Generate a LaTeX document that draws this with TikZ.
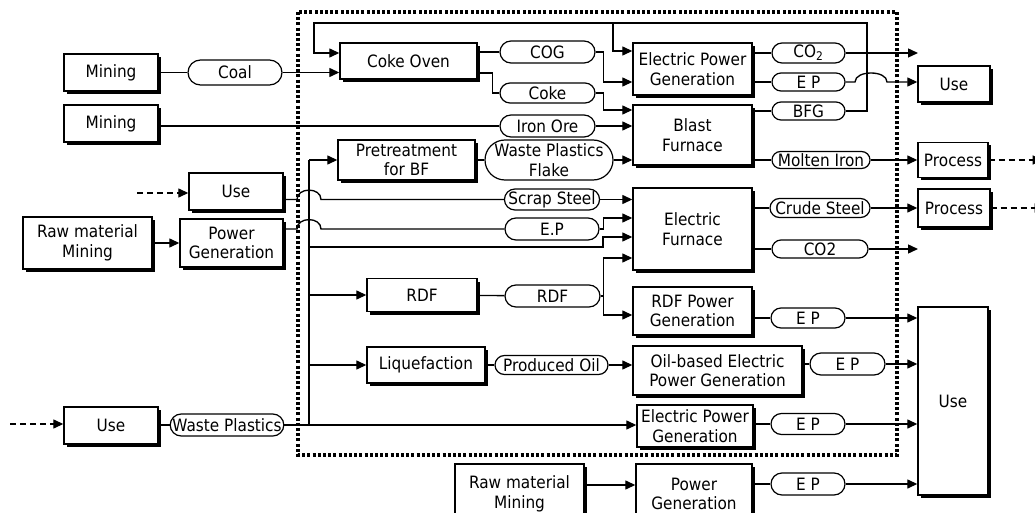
\documentclass[tikz,border=0pt]{standalone}
\usepackage{fontspec}
\setmainfont{DejaVu Sans}[FakeStretch=0.9]
\usetikzlibrary{arrows.meta,shapes.misc,shadows}
\tikzset{
  box/.style={draw, line width=1.4pt, fill=white, align=center, inner sep=0pt,
    drop shadow={shadow xshift=3pt, shadow yshift=-3pt, fill=black, opacity=1}},
  pill/.style={draw, rounded rectangle, line width=1.2pt, fill=white, inner sep=0pt, align=center},
  conn/.style={line width=1.35pt},
  arr/.style={conn, -{Triangle[length=10pt,width=9pt]}},
  dashedarr/.style={arr, dash pattern=on 6pt off 4pt},
  dotbox/.style={line width=3.2pt, dash pattern=on 3pt off 2.2pt},
}
\begin{document}
\begin{tikzpicture}[x=1pt,y=-1pt,font=\fontsize{17}{19.5}\selectfont]
\useasboundingbox[fill=white] (0,0) rectangle (1035,513);
\draw[dotbox] (298,12) rectangle (897,455);

% boxes
\node[box, minimum width=94pt, minimum height=37pt] (mining1) at (111,72.5) {Mining};
\node[box, minimum width=94pt, minimum height=37pt] (mining2) at (111,123.5) {Mining};
\node[box, minimum width=137pt, minimum height=36pt] (cokeoven) at (408.5,61) {Coke Oven};
\node[box, minimum width=119pt, minimum height=52pt] (epg1) at (692.5,69) {Electric Power\\Generation};
\node[box, minimum width=119pt, minimum height=60pt] (bf) at (692.5,135) {Blast\\Furnace};
\node[box, minimum width=137pt, minimum height=40pt] (pretreat) at (406.5,160) {Pretreatment\\for BF};
\node[box, minimum width=72pt, minimum height=36pt] (use1) at (954,84) {Use};
\node[box, minimum width=70pt, minimum height=35pt] (process1) at (953,160) {Process};
\node[box, minimum width=72pt, minimum height=38pt] (process2) at (954,208) {Process};
\node[box, minimum width=119pt, minimum height=82pt] (ef) at (692.5,229) {Electric\\Furnace};
\node[box, minimum width=94pt, minimum height=37pt] (usel) at (236,191.5) {Use};
\node[box, minimum width=103pt, minimum height=48pt] (powl) at (231.5,243) {Power\\Generation};
\node[box, minimum width=129pt, minimum height=52pt] (rawl) at (87.5,243) {Raw material\\Mining};
\node[box, minimum width=110pt, minimum height=33pt] (rdf) at (422,295) {RDF};
\node[box, minimum width=119pt, minimum height=48pt] (rdfpg) at (692.5,311) {RDF Power\\Generation};
\node[box, minimum width=118pt, minimum height=36pt] (liq) at (426,365) {Liquefaction};
\node[box, minimum width=169pt, minimum height=49pt] (oilpg) at (717.5,370.5) {Oil-based Electric\\Power Generation};
\node[box, minimum width=116pt, minimum height=42pt] (epg2) at (695,426) {Electric Power\\Generation};
\node[box, minimum width=94pt, minimum height=37pt] (useb) at (111,425.5) {Use};
\node[box, minimum width=70pt, minimum height=188pt] (bigUse) at (953,401) {Use};
\node[box, minimum width=129pt, minimum height=60pt] (rawb) at (519.5,494) {Raw material\\Mining};
\node[box, minimum width=116pt, minimum height=60pt] (powb) at (694,494) {Power\\Generation};

% pills
\node[pill, minimum width=94pt, minimum height=25pt] (coal) at (235,72.5) {Coal};
\node[pill, minimum width=95pt, minimum height=22pt] (cog) at (547.5,52) {COG};
\node[pill, minimum width=95pt, minimum height=20pt] (coke) at (547.5,93) {Coke};
\node[pill, minimum width=95pt, minimum height=22pt] (ironore) at (547.5,126) {Iron Ore};
\node[pill, minimum width=128pt, minimum height=40pt] (wpf) at (549,160) {Waste Plastics\\Flake};
\node[pill, minimum width=73pt, minimum height=20pt] (co2a) at (808.5,53) {CO\textsubscript{2}};
\node[pill, minimum width=73pt, minimum height=18pt] (ep1) at (808.5,82) {E P};
\node[pill, minimum width=73pt, minimum height=18pt] (bfg) at (808.5,111) {BFG};
\node[pill, minimum width=98pt, minimum height=17pt] (molten) at (821,160) {Molten Iron};
\node[pill, minimum width=94pt, minimum height=21pt] (scrap) at (552,199.5) {Scrap Steel};
\node[pill, minimum width=94pt, minimum height=22pt] (ep2) at (552,229) {E.P};
\node[pill, minimum width=100pt, minimum height=19pt] (crude) at (820,208) {Crude Steel};
\node[pill, minimum width=96pt, minimum height=18pt] (co2b) at (820,249) {CO2};
\node[pill, minimum width=95pt, minimum height=22pt] (rdfp) at (552.5,296) {RDF};
\node[pill, minimum width=74pt, minimum height=20pt] (ep3) at (808,318) {E P};
\node[pill, minimum width=113pt, minimum height=19pt] (prodoil) at (551.5,365) {Produced Oil};
\node[pill, minimum width=75pt, minimum height=22pt] (ep4) at (847.5,364) {E P};
\node[pill, minimum width=112pt, minimum height=22pt] (wp) at (227,425) {Waste Plastics};
\node[pill, minimum width=74pt, minimum height=21pt] (ep5) at (808,424) {E P};
\node[pill, minimum width=74pt, minimum height=22pt] (ep6) at (808,484) {E P};

% free ends and junctions
\coordinate (lpR) at (867,23);
\coordinate (lpL) at (314,23);
\coordinate (lpB) at (613,23);
\coordinate (co2aEnd) at (918,53);
\coordinate (co2bEnd) at (918,249);
\coordinate (uselIn) at (137,193);
\coordinate (usebIn) at (10,424);
\coordinate (busTop) at (309,160);
\coordinate (busBot) at (309,425);

% top chain
\draw[conn] (mining1) -- (coal);
\draw[arr] (coal.east) -- (coal.east -| cokeoven.west);
\draw[arr] (bfg.east) -| (lpR) -- (lpL) |- (cokeoven.west |- 0,53);
\draw[arr] (lpB) |- (epg1.west |- 0,51);
\draw[conn] (cokeoven.east |- cog) -- (cog.west);
\draw[arr] (cog.east) -- ++(8,0) |- (epg1.west |- 0,82);
\draw[conn] (cokeoven.east |- 0,73) -- ++(15,0) |- (coke.west);
\draw[arr] (coke.east) -- ++(8,0) |- (bf.west |- 0,110);
\draw[conn] (mining2.east |- ironore) -- (ironore.west);
\draw[arr] (ironore.east) -- (ironore.east -| bf.west);
\draw[conn] (pretreat) -- (wpf);
\draw[arr] (wpf.east) -- (wpf.east -| bf.west);
\draw[conn] (bf.east |- bfg) -- (bfg.west);
\draw[conn] (epg1.east |- co2a) -- (co2a.west);
\draw[arr] (co2a.east) -- (co2aEnd);
\draw[conn] (epg1.east |- ep1) -- (ep1.west);
\draw[arr] (ep1.east) -- (855,82) .. controls (855,70) and (887,70) .. (887,82) -- (use1.west |- ep1);
\draw[conn] (bf.east |- molten) -- (molten.west);
\draw[arr] (molten.east) -- (molten.east -| process1.west);
\draw[dashedarr] (process1.east) -- ++(54,0);

% left inputs
\draw[dashedarr] (uselIn) -- (usel.west |- uselIn);
\draw[conn] (usel.east |- scrap) -- (297,199.5) .. controls (297,187) and (321,187) .. (321,199.5) -- (scrap.west);
\draw[arr] (scrap.east) -- (scrap.east -| ef.west);
\draw[arr] (rawl) -- (powl);
\draw[conn] (powl.east |- ep2) -- (297,229) .. controls (297,216.5) and (321,216.5) .. (321,229) -- (ep2.west);
\draw[arr] (ep2.east) -- ++(4,0) |- (ef.west |- 0,218);

% bus
\draw[conn] (busTop) -- (busBot);
\draw[arr] (busTop) -- (pretreat.west);
\draw[arr] (309,247) -- (603,247) |- (ef.west |- 0,237);
\draw[arr] (busTop |- rdf) -- (rdf.west);
\draw[conn] (rdf) -- (rdfp);
\draw[conn] (rdfp.east) -- ++(3,0) coordinate (rj);
\draw[arr] (rj) |- (ef.west |- 0,258);
\draw[arr] (rj) |- (rdfpg.west |- 0,315);
\draw[arr] (busTop |- liq) -- (liq.west);
\draw[conn] (liq) -- (prodoil);
\draw[arr] (prodoil.east) -- (prodoil.east -| oilpg.west);

% bottom left
\draw[dashedarr] (usebIn) -- (useb.west |- usebIn);
\draw[conn] (useb.east |- wp) -- (wp.west);
\draw[arr] (wp.east) -- (wp.east -| epg2.west);

% right outputs
\draw[conn] (ef.east |- crude) -- (crude.west);
\draw[arr] (crude.east) -- (crude.east -| process2.west);
\draw[dashedarr] (process2.east) -- ++(54,0);
\draw[conn] (ef.east |- co2b) -- (co2b.west);
\draw[arr] (co2b.east) -- (co2bEnd);
\draw[conn] (rdfpg.east |- ep3) -- (ep3.west);
\draw[arr] (ep3.east) -- (ep3.east -| bigUse.west);
\draw[conn] (oilpg.east |- ep4) -- (ep4.west);
\draw[arr] (ep4.east) -- (ep4.east -| bigUse.west);
\draw[conn] (epg2.east |- ep5) -- (ep5.west);
\draw[arr] (ep5.east) -- (ep5.east -| bigUse.west);
\draw[arr] (rawb.east |- 0,485) -- (powb.west |- 0,485);
\draw[conn] (powb.east |- ep6) -- (ep6.west);
\draw[arr] (ep6.east) -- (ep6.east -| bigUse.west);
\end{tikzpicture}
\end{document}
